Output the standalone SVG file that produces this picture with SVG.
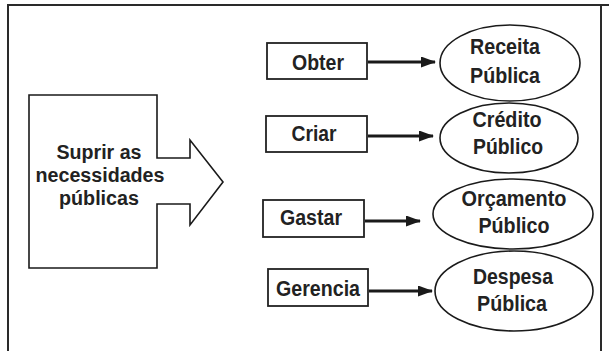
<svg xmlns="http://www.w3.org/2000/svg" width="609" height="351" viewBox="0 0 609 351">
  <defs>
    <marker id="ah" markerWidth="15" markerHeight="11" refX="14" refY="5.5" orient="auto" markerUnits="userSpaceOnUse">
      <path d="M0,0 L15,5.5 L0,11 Z" fill="#1a1a1a"/>
    </marker>
    <style>
      .frame { fill: none; stroke: #2a2a2a; stroke-width: 2; }
      .box { fill: #fff; stroke: #222; stroke-width: 1.8; }
      .ell { fill: #fff; stroke: #1a1a1a; stroke-width: 1.6; }
      .big { fill: #fff; stroke: #1a1a1a; stroke-width: 1.6; stroke-linejoin: miter; }
      .conn { stroke: #1a1a1a; stroke-width: 3; fill: none; }
      text { font-family: "Liberation Sans", Arial, sans-serif; font-weight: bold; font-size: 22px; fill: #222; text-anchor: middle; }
      .left { font-size: 20px; }
    </style>
  </defs>
  <rect width="609" height="351" fill="#fff"/>
  <path class="frame" d="M8,351 L8,5 L609,5 M601,5 L601,351"/>

  <g id="suprir">
    <path class="big" d="M29,95 L157,95 L157,158 L190,158 L190,140 L223,182 L190,225 L190,204 L157,204 L157,268 L29,268 Z"/>
    <text class="left" x="99" y="159" textLength="85" lengthAdjust="spacingAndGlyphs">Suprir as</text>
    <text class="left" x="100" y="182" textLength="129" lengthAdjust="spacingAndGlyphs">necessidades</text>
    <text class="left" x="99" y="205" textLength="80" lengthAdjust="spacingAndGlyphs">públicas</text>
  </g>

  <g id="obter">
    <rect class="box" x="267" y="43" width="100" height="36"/>
    <text x="318" y="70" textLength="52" lengthAdjust="spacingAndGlyphs">Obter</text>
  </g>
  <g id="criar">
    <rect class="box" x="266" y="116" width="101" height="36"/>
    <text x="314" y="141" textLength="45" lengthAdjust="spacingAndGlyphs">Criar</text>
  </g>
  <g id="gastar">
    <rect class="box" x="263" y="200" width="101" height="37"/>
    <text x="311" y="225" textLength="62" lengthAdjust="spacingAndGlyphs">Gastar</text>
  </g>
  <g id="gerencia">
    <rect class="box" x="268" y="269" width="100" height="37"/>
    <text x="318" y="296" textLength="84" lengthAdjust="spacingAndGlyphs">Gerencia</text>
  </g>

  <g id="receita">
    <ellipse class="ell" cx="510" cy="63" rx="70" ry="38"/>
    <text x="505" y="54" textLength="70" lengthAdjust="spacingAndGlyphs">Receita</text>
    <text x="505" y="83" textLength="70" lengthAdjust="spacingAndGlyphs">Pública</text>
  </g>
  <g id="credito">
    <ellipse class="ell" cx="509" cy="138" rx="69" ry="35"/>
    <text x="507" y="127" textLength="69" lengthAdjust="spacingAndGlyphs">Crédito</text>
    <text x="508" y="154" textLength="70" lengthAdjust="spacingAndGlyphs">Público</text>
  </g>
  <g id="orcamento">
    <ellipse class="ell" cx="513" cy="214" rx="80" ry="35"/>
    <text x="514" y="206" textLength="105" lengthAdjust="spacingAndGlyphs">Orçamento</text>
    <text x="514" y="233" textLength="71" lengthAdjust="spacingAndGlyphs">Público</text>
  </g>
  <g id="despesa">
    <ellipse class="ell" cx="514" cy="291" rx="79" ry="40"/>
    <text x="513" y="284" textLength="80" lengthAdjust="spacingAndGlyphs">Despesa</text>
    <text x="512" y="311" textLength="70" lengthAdjust="spacingAndGlyphs">Pública</text>
  </g>

  <g id="connectors">
    <line class="conn" x1="368" y1="62" x2="435" y2="62" marker-end="url(#ah)"/>
    <line class="conn" x1="368" y1="136" x2="433" y2="136" marker-end="url(#ah)"/>
    <line class="conn" x1="365" y1="221" x2="420" y2="221" marker-end="url(#ah)"/>
    <line class="conn" x1="369" y1="291" x2="432" y2="291" marker-end="url(#ah)"/>
  </g>
</svg>
